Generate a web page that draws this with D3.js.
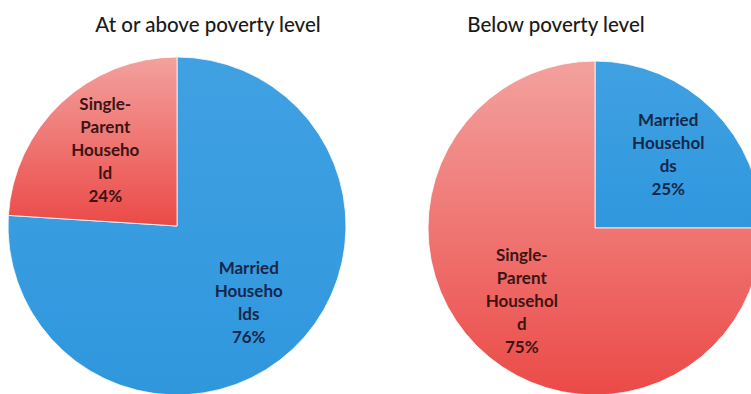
<!DOCTYPE html>
<html>
<head>
<meta charset="utf-8">
<script src="https://cdn.jsdelivr.net/npm/d3@7"></script>
<style>
  html, body { margin: 0; padding: 0; background: #ffffff; }
  svg { display: block; }
</style>
</head>
<body>
<svg id="chart" width="751" height="394"></svg>
<script>
// Household type shares, by poverty status
const categories = ["Married Households", "Single-Parent Household"];
const titles = ["At or above poverty level", "Below poverty level"];
const atOrAbove = [76, 24];
const belowPoverty = [25, 75];
// Wrapped label lines for each slice, as set in the chart
const labelLinesAbove = [["Married", "Househo", "lds"], ["Single-", "Parent", "Househo", "ld"]];
const labelLinesBelow = [["Married", "Househol", "ds"], ["Single-", "Parent", "Househol", "d"]];

const svg = d3.select("#chart");
const W = 751, H = 394;
svg.append("rect").attr("width", W).attr("height", H).attr("fill", "#ffffff");

// Fill gradients per category (light at top, deeper at bottom of each slice)
const defs = svg.append("defs");
const gradStops = {
  blue: ["#40a1e2", "#3097dd"],
  red: ["#f3a19e", "#eb4a47"]
};
Object.entries(gradStops).forEach(([k, [c0, c1]]) => {
  const g = defs.append("linearGradient").attr("id", "g-" + k)
    .attr("x1", 0).attr("y1", 0).attr("x2", 0).attr("y2", 1);
  g.append("stop").attr("offset", "0%").attr("stop-color", c0);
  g.append("stop").attr("offset", "100%").attr("stop-color", c1);
});

const color = d3.scaleOrdinal().domain(categories).range(["url(#g-blue)", "url(#g-red)"]);
const textColor = d3.scaleOrdinal().domain(categories).range(["#16284a", "#3d1414"]);

const charts = [
  { title: titles[0], values: atOrAbove, lines: labelLinesAbove, cx: 177, cy: 226, r: 169, tx: 208, ty: 32 },
  { title: titles[1], values: belowPoverty, lines: labelLinesBelow, cx: 595, cy: 228, r: 167, tx: 556, ty: 32 }
];

const pie = d3.pie().sort(null).value(d => d.value);
const fontFamily = "Lato, 'Open Sans', 'DejaVu Sans', sans-serif";

charts.forEach(c => {
  const data = categories.map((cat, i) => ({ cat, value: c.values[i], lines: c.lines[i] }));
  const arcs = pie(data);
  const arc = d3.arc().innerRadius(0).outerRadius(c.r);
  const labelArc = d3.arc().innerRadius(c.r * 0.62).outerRadius(c.r * 0.62);

  svg.append("text")
    .attr("x", c.tx).attr("y", c.ty)
    .attr("text-anchor", "middle")
    .attr("font-family", fontFamily)
    .attr("font-size", 20.5)
    .attr("font-weight", 500)
    .attr("fill", "#1a1a1a")
    .text(c.title);

  const g = svg.append("g").attr("transform", `translate(${c.cx},${c.cy})`);

  g.selectAll("path.slice").data(arcs).join("path")
    .attr("class", "slice")
    .attr("d", arc)
    .attr("fill", d => color(d.data.cat))
    .attr("stroke", "#ffffff")
    .attr("stroke-width", 0.8);

  const lh = 23;
  g.selectAll("text.lbl").data(arcs).join("text")
    .attr("class", "lbl")
    .attr("transform", d => `translate(${labelArc.centroid(d)})`)
    .attr("text-anchor", "middle")
    .attr("font-family", fontFamily)
    .attr("font-size", 17)
    .attr("font-weight", 700)
    .attr("fill", d => textColor(d.data.cat))
    .each(function (d) {
      const lines = d.data.lines.concat([d.data.value + "%"]);
      const t = d3.select(this);
      const y0 = -((lines.length - 1) * lh) / 2;
      lines.forEach((ln, i) => {
        t.append("tspan").attr("x", 0).attr("y", y0 + i * lh).attr("dy", "0.35em").text(ln);
      });
    });
});
</script>
</body>
</html>
